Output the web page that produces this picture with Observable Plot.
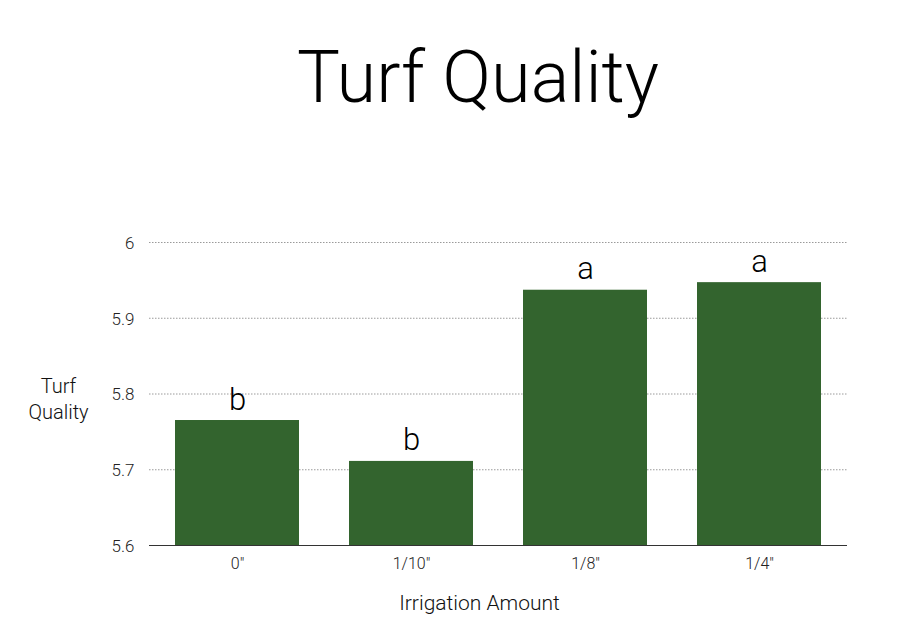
<!DOCTYPE html>
<html>
<head>
<meta charset="utf-8">
<script src="https://cdn.jsdelivr.net/npm/d3@7"></script>
<script src="https://cdn.jsdelivr.net/npm/@observablehq/plot@0.6"></script>
<style>
  html, body { margin: 0; padding: 0; background: #fff; }
  #wrap { position: relative; width: 900px; height: 624px; overflow: hidden; }
  #title { position: absolute; left: 56px; top: 28px; width: 844px; height: 100px; text-align: center;
           font-family: Roboto, "Liberation Sans", sans-serif; font-weight: 300; font-size: 72px; line-height: 100px; color: #000; }
  #chart { position: absolute; left: 0; top: 170px; }
</style>
</head>
<body>
<div id="wrap">
  <div id="title">Turf Quality</div>
  <div id="chart"></div>
</div>
<script>
const amounts = ['0"', '1/10"', '1/8"', '1/4"'];
const quality = [5.765, 5.711, 5.937, 5.947];
const letters = ["b", "b", "a", "a"];
const yTicks = [5.6, 5.7, 5.8, 5.9, 6];
const yTitle = "Turf\nQuality";
const xTitle = "Irrigation Amount";

const data = amounts.map((a, i) => ({amount: a, quality: quality[i], letter: letters[i]}));

const chart = Plot.plot({
  width: 900,
  height: 454,
  marginTop: 72,
  marginBottom: 79,
  marginLeft: 149,
  marginRight: 53,
  style: {fontFamily: "Roboto, 'Liberation Sans', sans-serif", background: "#fff", color: "#222"},
  x: {domain: amounts, paddingInner: 0.287, paddingOuter: 0.1435, label: null},
  y: {domain: [5.6, 6], label: null},
  marks: [
    Plot.ruleY(yTicks.slice(1), {stroke: "#9a9a9a", strokeWidth: 1, strokeDasharray: "1.5,1.5"}),
    Plot.barY(data, {x: "amount", y1: 5.6, y2: "quality", fill: "#33642e"}),
    Plot.ruleY([5.6], {stroke: "#333", strokeWidth: 1}),
    Plot.text(data, {x: "amount", y: "quality", text: "letter", lineAnchor: "bottom", dy: -11,
      fontSize: 31, fontWeight: 300, fill: "#000"}),
    Plot.axisY({ticks: yTicks, tickSize: 0, tickPadding: 15, fontSize: 17, fontWeight: 300, dy: 1, tickFormat: d => String(d), label: null}),
    Plot.axisX({tickSize: 0, tickPadding: 12, fontSize: 16, fontWeight: 300, label: null}),
    Plot.text([yTitle], {frameAnchor: "left", text: d => d, dx: -91, dy: 4, fontSize: 20, fontWeight: 300, lineHeight: 1.3, textAnchor: "middle", fill: "#111"}),
    Plot.text([xTitle], {frameAnchor: "bottom", text: d => d, dx: -19, dy: 64, fontSize: 21, fontWeight: 300, textAnchor: "middle", fill: "#111"})
  ]
});
document.getElementById("chart").appendChild(chart);
</script>
</body>
</html>
